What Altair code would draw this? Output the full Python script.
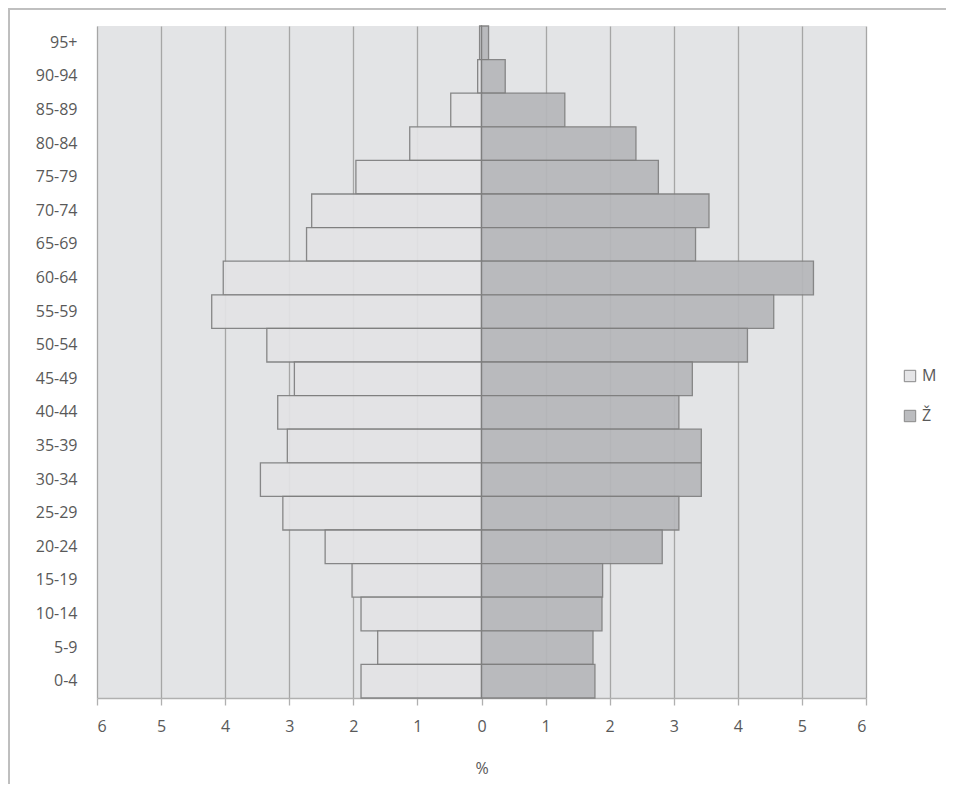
import altair as alt
import pandas as pd

ages = ["95+", "90-94", "85-89", "80-84", "75-79", "70-74", "65-69", "60-64",
        "55-59", "50-54", "45-49", "40-44", "35-39", "30-34", "25-29", "20-24",
        "15-19", "10-14", "5-9", "0-4"]
male = [0.03, 0.06, 0.48, 1.12, 1.96, 2.65, 2.73, 4.03, 4.21, 3.35, 2.92, 3.18,
        3.03, 3.45, 3.10, 2.44, 2.02, 1.88, 1.62, 1.88]
female = [0.11, 0.37, 1.30, 2.41, 2.76, 3.55, 3.34, 5.18, 4.56, 4.15, 3.29, 3.08,
          3.43, 3.43, 3.08, 2.82, 1.89, 1.88, 1.74, 1.77]
sexes = ["M", "Ž"]
ticks = [-6, -5, -4, -3, -2, -1, 0, 1, 2, 3, 4, 5, 6]

rows = []
for a, m, f in zip(ages, male, female):
    rows.append({"age": a, "sex": "M", "value": -m})
    rows.append({"age": a, "sex": "Ž", "value": f})
df = pd.DataFrame(rows)

FONT = "Open Sans"
W, H = 769, 672

bars = alt.Chart(df).mark_bar(stroke="#7f7f7f", strokeWidth=1.3, opacity=0.92).encode(
    x=alt.X("value:Q", scale=alt.Scale(domain=[-6, 6], nice=False, zero=False),
            axis=alt.Axis(values=ticks, labelExpr="abs(datum.value)", title="%",
                          grid=True, gridColor="#a6a6a6", gridWidth=1.3,
                          domainColor="#b0b0b0", domainWidth=1.3,
                          tickColor="#b0b0b0", tickSize=7, tickWidth=1.3,
                          labelPadding=13, titlePadding=26,
                          labelFont=FONT, titleFont=FONT, labelFontSize=16,
                          titleFontSize=16, titleFontWeight="normal",
                          labelColor="#595959", titleColor="#595959")),
    y=alt.Y("age:N", sort=ages,
            scale=alt.Scale(paddingInner=0, paddingOuter=0),
            axis=alt.Axis(title=None, ticks=False, domain=False, labelPadding=20,
                          labelFont=FONT, labelFontSize=16, labelColor="#595959")),
    color=alt.Color("sex:N", scale=alt.Scale(domain=sexes, range=["#e3e3e5", "#b6b7ba"]),
                    legend=alt.Legend(title=None, orient="none", legendX=805, legendY=342,
                                      symbolType="square", symbolSize=130,
                                      symbolStrokeColor="#7f7f7f", symbolStrokeWidth=1,
                                      rowPadding=24, labelFont=FONT, labelFontSize=16,
                                      labelColor="#595959", labelOffset=4)),
)

frame_left = alt.Chart(df).mark_rule(color="#bfbfbf", strokeWidth=1.3).encode(
    x=alt.value(-88), y=alt.value(-18), y2=alt.value(H + 200))
frame_top = alt.Chart(df).mark_rule(color="#bfbfbf", strokeWidth=1.3).encode(
    x=alt.value(-88), x2=alt.value(W + 200), y=alt.value(-17.5))

chart = alt.layer(bars, frame_left, frame_top).properties(
    width=W, height=H,
    background="white",
    autosize=alt.AutoSizeParams(type="none"),
    padding={"left": 89, "top": 18, "right": 80, "bottom": 86},
).configure_view(fill="#e3e4e6", stroke=None)

chart.save("out.html", embed_options={"renderer": "svg", "actions": False})
